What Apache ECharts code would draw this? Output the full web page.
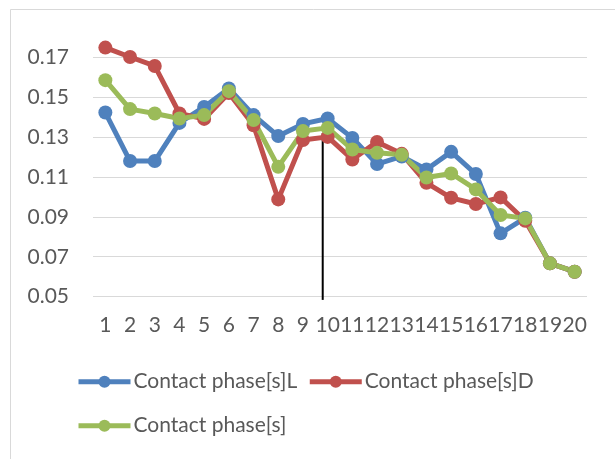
<!DOCTYPE html>
<html>
<head>
<meta charset="utf-8">
<script src="https://cdn.jsdelivr.net/npm/echarts@6/dist/echarts.min.js"></script>
<style>html,body{margin:0;padding:0;background:#fff}#c{width:615px;height:459px}</style>
</head>
<body>
<div id="c"></div>
<script>
const categories = ['1','2','3','4','5','6','7','8','9','10','11','12','13','14','15','16','17','18','19','20'];
const yTicks = [0.05, 0.07, 0.09, 0.11, 0.13, 0.15, 0.17];
const seriesNames = ['Contact phase[s]L', 'Contact phase[s]D', 'Contact phase[s]'];
const contactL = [0.1422, 0.1179, 0.1179, 0.1370, 0.1450, 0.1542, 0.1409, 0.1304, 0.1365, 0.1392, 0.1295, 0.1164, 0.1202, 0.1137, 0.1225, 0.1114, 0.0817, 0.0895, 0.0667, 0.0625];
const contactD = [0.1747, 0.1700, 0.1655, 0.1417, 0.1390, 0.1520, 0.1358, 0.0987, 0.1284, 0.1300, 0.1187, 0.1275, 0.1215, 0.1070, 0.0995, 0.0964, 0.0997, 0.0880, 0.0667, 0.0625];
const contact = [0.1584, 0.1439, 0.1417, 0.1392, 0.1409, 0.1529, 0.1384, 0.1150, 0.1329, 0.1345, 0.1237, 0.1220, 0.1210, 0.1097, 0.1117, 0.1037, 0.0909, 0.0892, 0.0667, 0.0625];
const markerX = [9.8, 9.8];
const markerY = [0.0484, 0.1319];

const colors = ['#4f81bd', '#c0504d', '#9bbb59'];
const font = 'Lato';
const txt = '#595959';
const chart = echarts.init(document.getElementById('c'));
const mk = (name, data, color) => ({
  name, type: 'line', data, xAxisIndex: 0, yAxisIndex: 0,
  symbol: 'circle', symbolSize: 14,
  lineStyle: { color, width: 5 },
  itemStyle: { color },
  emphasis: { disabled: true }, animation: false
});
chart.setOption({
  backgroundColor: '#fff',
  animation: false,
  graphic: [{ type: 'rect', shape: { x: 10.5, y: 9.5, width: 640, height: 480 }, style: { fill: 'none', stroke: '#d9d9d9', lineWidth: 1 }, silent: true }],
  grid: { left: 93, right: 28, top: 37, bottom: 162.3 },
  legend: {
    data: seriesNames,
    left: 76, top: 364.7, width: 480,
    itemWidth: 52, itemHeight: 15, itemGap: 10,
    lineStyle: { width: 5 },
    textStyle: { fontFamily: font, fontSize: 21, color: txt, lineHeight: 34, padding: [0, 0, 0, -2] },
    padding: 0
  },
  xAxis: [{
    type: 'category', data: categories, boundaryGap: true,
    axisLine: { show: false }, axisTick: { show: false },
    axisLabel: { fontFamily: font, fontSize: 21, color: txt, margin: 18, interval: 0 }
  }, {
    type: 'value', min: 0.5, max: 20.5, show: false, gridIndex: 0
  }],
  yAxis: {
    type: 'value', min: 0.05, max: 0.18,
    axisLine: { show: false },
    axisTick: { show: false, customValues: yTicks },
    axisLabel: { fontFamily: font, fontSize: 21, color: txt, margin: 24, customValues: yTicks, formatter: v => v.toFixed(2) },
    splitLine: { show: true, lineStyle: { color: '#d9d9d9', width: 1 } }
  },
  series: [
    mk(seriesNames[0], contactL, colors[0]),
    mk(seriesNames[1], contactD, colors[1]),
    mk(seriesNames[2], contact, colors[2]),
    {
      type: 'line', xAxisIndex: 1, yAxisIndex: 0, clip: false,
      data: markerX.map((x, i) => [x, markerY[i]]),
      symbol: 'none', lineStyle: { color: '#000', width: 2 }, z: 1,
      silent: true, animation: false
    }
  ]
});
</script>
</body>
</html>
